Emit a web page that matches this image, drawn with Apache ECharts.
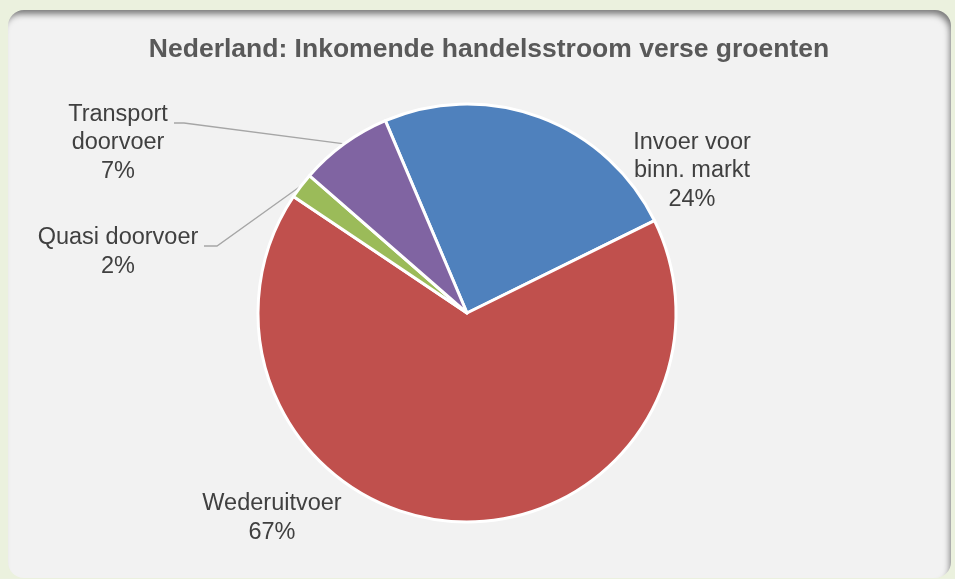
<!DOCTYPE html>
<html>
<head>
<meta charset="utf-8">
<script src="https://cdn.jsdelivr.net/npm/echarts@6/dist/echarts.min.js"></script>
<style>
  html, body { margin: 0; padding: 0; background: #ebf1de; }
  .wrap { position: relative; width: 955px; height: 579px; overflow: hidden; }
  .panel {
    position: absolute; left: 8px; top: 10px; width: 943px; height: 568px;
    background: #f2f2f2; border-radius: 16px;
    box-shadow: inset -3px 6px 6px -2px rgba(0, 0, 0, 0.5);
  }
  #chart { position: absolute; left: 0; top: 0; width: 955px; height: 579px; }
</style>
</head>
<body>
<div class="wrap">
  <div class="panel"></div>
  <div id="chart"></div>
</div>
<script>
// categories in clockwise order, starting with the blue slice
const categories = ["Invoer voor\nbinn. markt", "Wederuitvoer", "Quasi doorvoer", "Transport\ndoorvoer"];
const shares = [24.1, 66.7, 2.0, 7.2];
const colors = ["#4f81bd", "#c0504d", "#9bbb59", "#8064a2"];

// label anchors (centre of label block) and whether a leader line is drawn
const labelAnchor = [
  { x: 692, y: 171, line: false },
  { x: 272, y: 518, line: false },
  { x: 118, y: 252, line: true, end: 204, elbow: 217 },
  { x: 118, y: 143, line: true, end: 174, elbow: 184 }
];

const chart = echarts.init(document.getElementById("chart"), null, { renderer: "canvas" });

const data = categories.map((name, i) => ({
  name: name,
  value: shares[i],
  itemStyle: { color: colors[i] },
  labelLine: { show: labelAnchor[i].line }
}));

chart.setOption({
  animation: false,
  title: {
    text: "Nederland: Inkomende handelsstroom verse groenten",
    left: 484,
    top: 31,
    textAlign: "center",
    textStyle: {
      color: "#595959",
      fontSize: 26.5,
      fontWeight: "bold",
      fontFamily: "Liberation Sans, Arial, sans-serif"
    }
  },
  series: [
    {
      type: "pie",
      center: [467, 313],
      radius: 209,
      startAngle: 113,
      clockwise: true,
      percentPrecision: 0,
      itemStyle: { borderColor: "#ffffff", borderWidth: 3 },
      label: {
        show: true,
        position: "outside",
        formatter: "{b}\n{d}%",
        color: "#404040",
        fontSize: 23.5,
        lineHeight: 28.5,
        align: "center",
        fontFamily: "Liberation Sans, Arial, sans-serif"
      },
      labelLine: {
        show: true,
        length: 10,
        length2: 10,
        lineStyle: { color: "#a6a6a6", width: 1.3 }
      },
      emphasis: { disabled: true },
      labelLayout: function (params) {
        const a = labelAnchor[params.dataIndex];
        const out = { x: a.x, y: a.y, align: "center", verticalAlign: "middle" };
        if (a.line && params.labelLinePoints) {
          const p0 = params.labelLinePoints[0];
          const ly = params.dataIndex === 3 ? a.y - 20 : a.y - 6;
          out.labelLinePoints = [p0, [a.elbow, ly], [a.end, ly]];
        }
        return out;
      },
      data: data
    }
  ]
});
</script>
</body>
</html>
